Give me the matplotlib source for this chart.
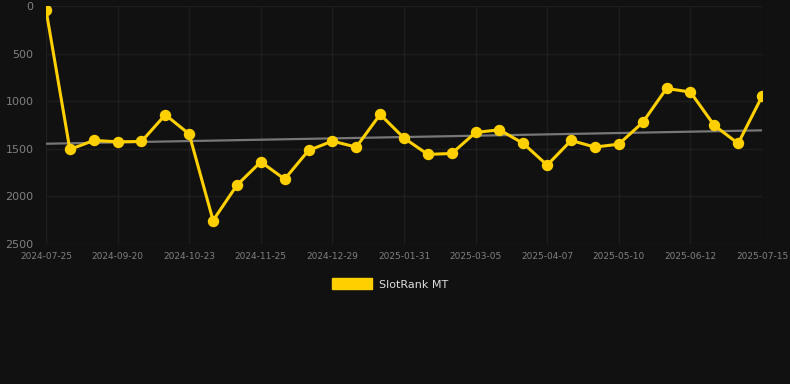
import numpy as np
import matplotlib
matplotlib.use("Agg")
import matplotlib.pyplot as plt
from matplotlib.patches import Patch

tick_labels = ["2024-07-25", "2024-09-20", "2024-10-23", "2024-11-25", "2024-12-29",
               "2025-01-31", "2025-03-05", "2025-04-07", "2025-05-10", "2025-06-12",
               "2025-07-15"]
ranks = [40, 1509, 1414, 1428, 1425, 1144, 1347, 2256, 1884, 1639, 1821,
         1519, 1421, 1484, 1140, 1389, 1561, 1551, 1330, 1302, 1446,
         1674, 1414, 1484, 1453, 1225, 867, 905, 1256, 1446, 951]
series_name = "SlotRank MT"

bg = "#111111"
gold = "#FFD000"

fig = plt.figure(figsize=(7.9, 3.84), dpi=100, facecolor=bg)
ax = fig.add_axes([46/790, 1 - 243.7/384, (762-46)/790, (243.7-6)/384])
ax.set_facecolor(bg)

x = np.arange(len(ranks))
y = np.array(ranks, dtype=float)

# trend line
coef = np.polyfit(x, y, 1)
ax.plot(x, np.polyval(coef, x), color="#777777", lw=1.6, zorder=2)

ax.plot(x, y, color=gold, lw=2.2, marker="o", markersize=7.2, zorder=3)

ax.set_xlim(0, len(ranks) - 1)
ax.set_ylim(2500, 0)
ax.set_yticks([0, 500, 1000, 1500, 2000, 2500])
ax.set_xticks(x[::3])
ax.set_xticklabels(tick_labels)
ax.grid(True, color="#1e1e1e", lw=1.0)
ax.set_axisbelow(True)
for s in ax.spines.values():
    s.set_visible(False)
ax.tick_params(axis="y", colors="#808080", labelsize=8, length=0, pad=9)
ax.tick_params(axis="x", colors="#808080", labelsize=6.5, length=0, pad=6)

handle = Patch(facecolor=gold, edgecolor=gold)
leg = fig.legend([handle], [series_name], loc="center", bbox_to_anchor=(390/790, 1 - 284/384),
                 frameon=False, fontsize=8, handlelength=3.6, handleheight=1.1,
                 handletextpad=0.6, labelcolor="#dddddd")

fig.savefig("out.png", dpi=100, facecolor=bg)
